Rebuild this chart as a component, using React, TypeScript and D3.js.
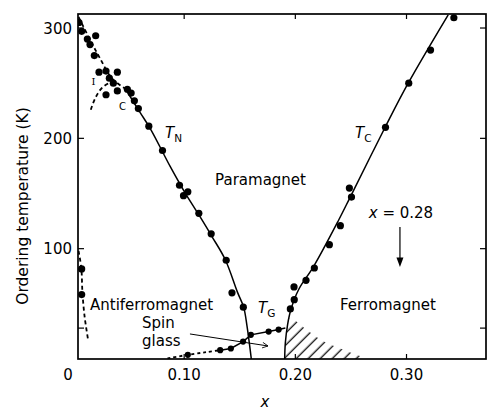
import React from 'react';
import * as d3 from 'd3';

// measured points (x, T in K)
const tnDots: [number, number][] = [
  [0.0054, 305], [0.0078, 297], [0.0129, 290], [0.0153, 285], [0.0204, 293], [0.0192, 275],
  [0.0234, 260], [0.0297, 261], [0.0327, 254.5], [0.0399, 260], [0.0363, 250], [0.0297, 239.5],
  [0.0399, 243], [0.0489, 244.5], [0.0523, 241], [0.0552, 234], [0.0588, 227], [0.0682, 211],
  [0.0805, 189], [0.0958, 157.5], [0.0994, 148], [0.1033, 151.5], [0.1132, 132], [0.1243, 113.5],
  [0.1378, 89.5], [0.143, 60], [0.1532, 47],
];
const tcDots: [number, number][] = [
  [0.1955, 45.4], [0.199, 53.8], [0.1988, 65.3], [0.2096, 71.3], [0.2171, 82.5], [0.2306, 103.6],
  [0.2405, 120.8], [0.2505, 146.8], [0.2486, 154.9], [0.2811, 210], [0.302, 250], [0.3216, 280],
  [0.3426, 309.3],
];
const sgDots: [number, number][] = [
  [0.1033, 3.8], [0.1324, 8], [0.142, 9.5], [0.153, 15.8], [0.160, 21.9], [0.176, 24.9], [0.185, 26.7],
];
const lowDots: [number, number][] = [[0.0078, 81.6], [0.0078, 58.4]];

// boundary lines
const tnUpper: [number, number][] = [[0.005, 310], [0.015, 290], [0.0243, 272.5], [0.0349, 254.5], [0.047, 245]];
const tnCurve: [number, number][] = [
  [0.047, 245], [0.06, 224], [0.07, 208], [0.0874, 174.5], [0.1, 152], [0.113, 131], [0.125, 111],
  [0.137, 90], [0.148, 60.4], [0.1535, 47], [0.1565, 30], [0.1586, 14.6], [0.1604, 0],
];
const icArc: [number, number][] = [[0.016, 226], [0.0198, 236], [0.0258, 245.4], [0.0333, 250.5], [0.037, 251]];
const tcCurve: [number, number][] = [
  [0.1904, 0], [0.191, 14.6], [0.193, 31], [0.196, 44.8], [0.203, 63], [0.2165, 84], [0.239, 126],
  [0.2495, 147], [0.281, 210.5], [0.3015, 250], [0.3375, 312],
];
const sgDotted: [number, number][] = [[0.085, 0.5], [0.1033, 3.8], [0.12, 6.2], [0.1324, 8]];
const sgSolid: [number, number][] = [
  [0.1324, 8], [0.142, 9.5], [0.153, 15.8], [0.160, 21.9], [0.176, 24.9], [0.185, 26.7], [0.191, 28],
];
const lowDashed: [number, number][] = [[0.005, 98], [0.0075, 82], [0.0085, 60], [0.0105, 38], [0.0138, 16]];
const hatchArea: [number, number][] = [
  [0.1904, 0], [0.191, 14.6], [0.193, 31], [0.1945, 37], [0.2, 35], [0.208, 28], [0.219, 20],
  [0.228, 14.6], [0.2495, 6], [0.26, 2], [0.262, 0],
];

const xTicks = [0.1, 0.2, 0.3];
const xLabels = [0, 0.1, 0.2, 0.3];
const yTicks = [28, 100, 200, 300];
const yLabels = [100, 200, 300];

const W = 488;
const H = 412;
const FONT = 'DejaVu Sans, sans-serif';

export default function App() {
  const x = d3.scaleLinear().domain([0.0045, 0.3715]).range([78, 486]);
  const y = d3.scaleLinear().domain([0, 312.7]).range([359, 14]);
  const [x0, x1] = x.range();
  const [y0, y1] = y.range();

  const smooth = d3.line<[number, number]>().x(d => x(d[0])).y(d => y(d[1])).curve(d3.curveCatmullRom);
  const straight = d3.line<[number, number]>().x(d => x(d[0])).y(d => y(d[1]));

  const sub = (main: string, s: string, xd: number, td: number) => (
    <text x={x(xd)} y={y(td)} fontFamily={FONT} fontSize={15}>
      <tspan fontStyle="italic">{main}</tspan>
      <tspan fontSize={10.5} dy={4}>{s}</tspan>
    </text>
  );

  return (
    <svg width={W} height={H} style={{ position: 'absolute', left: 0, top: 0, background: '#fff' }}>
      <defs>
        <pattern id="hatch" width={8.5} height={8.5} patternUnits="userSpaceOnUse" patternTransform="rotate(45)">
          <line x1={4} y1={0} x2={4} y2={8.5} stroke="#000" strokeWidth={1.2} />
        </pattern>
        <clipPath id="plot">
          <rect x={x0} y={y1} width={x1 - x0} height={y0 - y1} />
        </clipPath>
        <marker id="open" viewBox="0 0 10 10" refX={9} refY={5} markerWidth={7} markerHeight={7} orient="auto">
          <path d="M1,1 L9,5 L1,9" fill="none" stroke="#000" strokeWidth={1.2} />
        </marker>
      </defs>

      <g clipPath="url(#plot)">
        <path d={straight(hatchArea) + 'Z'} fill="url(#hatch)" stroke="none" />
        <path d={smooth(tnUpper)!} fill="none" stroke="#000" strokeWidth={1.8} strokeDasharray="4,3" />
        <path d={smooth(icArc)!} fill="none" stroke="#000" strokeWidth={1.8} strokeDasharray="4,3" />
        <path d={smooth(tnCurve)!} fill="none" stroke="#000" strokeWidth={1.5} />
        <path d={smooth(tcCurve)!} fill="none" stroke="#000" strokeWidth={1.5} />
        <path d={smooth(sgDotted)!} fill="none" stroke="#000" strokeWidth={1.8} strokeDasharray="3,3" />
        <path d={straight(sgSolid)!} fill="none" stroke="#000" strokeWidth={1.5} />
        <path d={smooth(lowDashed)!} fill="none" stroke="#000" strokeWidth={1.8} strokeDasharray="4,3" />
        {tnDots.concat(tcDots, lowDots).map((d, i) => (
          <circle key={'d' + i} cx={x(d[0])} cy={y(d[1])} r={3.6} fill="#000" />
        ))}
        {sgDots.map((d, i) => (
          <circle key={'s' + i} cx={x(d[0])} cy={y(d[1])} r={3.1} fill="#000" />
        ))}
      </g>

      {/* frame and ticks */}
      <rect x={x0} y={y1} width={x1 - x0} height={y0 - y1} fill="none" stroke="#000" strokeWidth={1.7} />
      {xTicks.map(t => (
        <g key={'xt' + t}>
          <line x1={x(t)} x2={x(t)} y1={y0} y2={y0 - 5} stroke="#000" strokeWidth={1.2} />
          <line x1={x(t)} x2={x(t)} y1={y1} y2={y1 + 5} stroke="#000" strokeWidth={1.2} />
        </g>
      ))}
      {yTicks.map(t => (
        <g key={'yt' + t}>
          <line x1={x0} x2={x0 + 6} y1={y(t)} y2={y(t)} stroke="#000" strokeWidth={1.2} />
          <line x1={x1} x2={x1 - 6} y1={y(t)} y2={y(t)} stroke="#000" strokeWidth={1.2} />
        </g>
      ))}
      {xLabels.map(t => (
        <text key={'xl' + t} x={x(t) + (t === 0 ? -5 : 0)} y={380} textAnchor="middle" fontFamily={FONT} fontSize={15}>
          {t === 0 ? '0' : t.toFixed(2)}
        </text>
      ))}
      {yLabels.map(t => (
        <text key={'yl' + t} x={72} y={y(t) + 5.5} textAnchor="end" fontFamily={FONT} fontSize={15}>
          {t}
        </text>
      ))}
      <text x={265} y={407} textAnchor="middle" fontFamily={FONT} fontSize={15} fontStyle="italic">x</text>
      <text transform="translate(28,206) rotate(-90)" textAnchor="middle" fontFamily={FONT} fontSize={15.5}>
        Ordering temperature  (K)
      </text>

      {/* annotations */}
      <text x={x(0.1687)} y={y(157.7)} textAnchor="middle" fontFamily={FONT} fontSize={15}>Paramagnet</text>
      <text x={x(0.0153)} y={y(44.4)} fontFamily={FONT} fontSize={15}>Antiferromagnet</text>
      <text x={x(0.2402)} y={y(44.4)} fontFamily={FONT} fontSize={15}>Ferromagnet</text>
      <text x={x(0.0621)} y={y(28)} fontFamily={FONT} fontSize={15}>Spin</text>
      <text x={x(0.0621)} y={y(12)} fontFamily={FONT} fontSize={15}>glass</text>
      <line x1={x(0.1052)} y1={y(22.7)} x2={x(0.1754)} y2={y(11.8)} stroke="#000" strokeWidth={1} markerEnd="url(#open)" />
      {sub('T', 'N', 0.0828, 200.3)}
      {sub('T', 'C', 0.2537, 200.3)}
      {sub('T', 'G', 0.1664, 41.7)}
      <text x={x(0.0184)} y={y(248.3)} textAnchor="middle" fontFamily="DejaVu Serif, serif" fontSize={10}>I</text>
      <text x={x(0.0445)} y={y(225.7)} textAnchor="middle" fontFamily={FONT} fontSize={10}>C</text>
      <text x={x(0.295)} y={y(127.8)} textAnchor="middle" fontFamily={FONT} fontSize={15}>
        <tspan fontStyle="italic">x</tspan> = 0.28
      </text>
      <line x1={x(0.2941)} x2={x(0.2941)} y1={y(119.6)} y2={y(90)} stroke="#000" strokeWidth={1.2} />
      <path
        d={`M${x(0.2941) - 3.5},${y(92)} L${x(0.2941) + 3.5},${y(92)} L${x(0.2941)},${y(83.4)} Z`}
        fill="#000"
      />
    </svg>
  );
}
